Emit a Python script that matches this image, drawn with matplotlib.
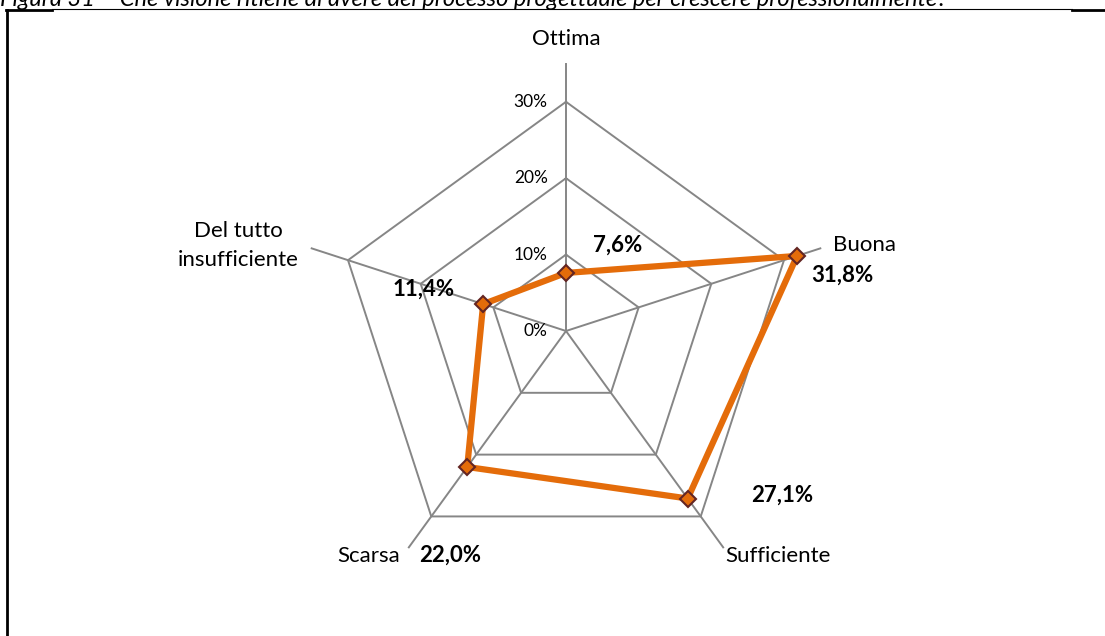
import numpy as np
import matplotlib.pyplot as plt
from matplotlib.lines import Line2D

# Radar data
categories = ['Ottima', 'Buona', 'Sufficiente', 'Scarsa', 'Del tutto\ninsufficiente']
values = [7.6, 31.8, 27.1, 22.0, 11.4]
value_labels = ['7,6%', '31,8%', '27,1%', '22,0%', '11,4%']
rings = [10, 20, 30]
ring_labels = ['0%', '10%', '20%', '30%']
title = 'Figura 31 \u2013 Che visione ritiene di avere del processo progettuale per crescere professionalmente?'

plt.rcParams['font.family'] = ['Lato', 'DejaVu Sans']

W, H = 1105, 636
fig = plt.figure(figsize=(W / 100, H / 100), dpi=100)

# axes in percent units, centre of radar at (566, 331) px, 7.64 px per %
cx, cy, s = 566, 331, 7.64
ax = fig.add_axes([0, 0, 1, 1])
ax.set_xlim(-cx / s, (W - cx) / s)
ax.set_ylim(-(H - cy) / s, cy / s)
ax.axis('off')

n = len(categories)
ang = np.deg2rad(90 - 72 * np.arange(n))
cosa, sina = np.cos(ang), np.sin(ang)

grid_c = '#868686'
# spokes
for c, sn in zip(cosa, sina):
    ax.plot([0, 35 * c], [0, 35 * sn], color=grid_c, lw=1.4, zorder=1)
# pentagon rings
for r in rings:
    ax.plot(np.r_[r * cosa, r * cosa[0]], np.r_[r * sina, r * sina[0]],
            color=grid_c, lw=1.4, zorder=1)

# ring tick labels
for i, lab in enumerate(ring_labels):
    ax.text(-2.4, 10 * i, lab, ha='right', va='center', fontsize=12.5)

# data
v = np.array(values)
ax.plot(np.r_[v * cosa, v[0] * cosa[0]], np.r_[v * sina, v[0] * sina[0]],
        color='#E46C0A', lw=4.5, zorder=3, solid_joinstyle='miter')
ax.plot(v * cosa, v * sina, ls='none', marker='D', ms=8,
        mfc='#E46C0A', mec='#632523', mew=1.5, zorder=4)

# category labels
cat_pos = [(0, 38.2, 'center'), (34.9, 11.2, 'left'), (27.7, -29.4, 'center'),
           (-25.8, -29.4, 'center'), (-42.9, 11.2, 'center')]
for lab, (x, y, ha) in zip(categories, cat_pos):
    ax.text(x, y, lab, ha=ha, va='center', fontsize=16, linespacing=1.55)

# value labels
val_pos = [(6.7, 11.2), (36.2, 7.3), (28.3, -21.5), (-15.2, -29.4), (-18.6, 5.5)]
for lab, (x, y) in zip(value_labels, val_pos):
    ax.text(x, y, lab, ha='center', va='center', fontsize=16, fontweight='bold')

# caption, cut at the top as in the source page
fig.text(0, 1 - 5.5 / H, title, ha='left', va='baseline', fontsize=17,
         style='italic')

# frame fragments
def fx(px):
    return px / W

def fy(py):
    return 1 - py / H

fig.add_artist(Line2D([fx(7), fx(7)], [fy(10), fy(H)], color='black', lw=2))
fig.add_artist(Line2D([fx(6), fx(52)], [fy(10), fy(10)], color='black', lw=2))
fig.add_artist(Line2D([fx(52), fx(1072)], [fy(9), fy(9)], color='black', lw=0.8))
fig.add_artist(Line2D([fx(1072), fx(W)], [fy(10), fy(10)], color='black', lw=2))

fig.savefig('out.png', dpi=100)
